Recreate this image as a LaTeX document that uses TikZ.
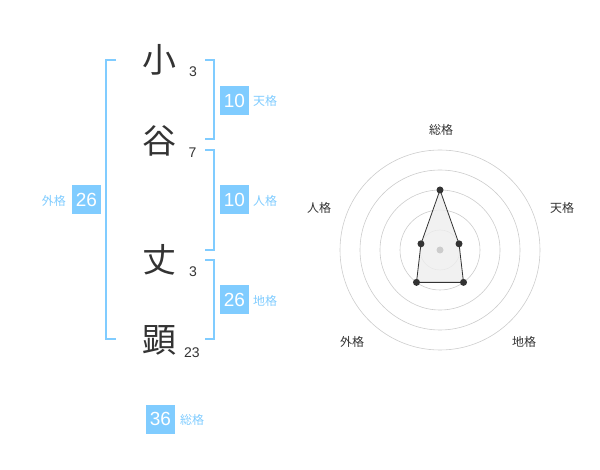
\documentclass[tikz,border=0pt]{standalone}
\usepackage{fontspec}
\usetikzlibrary{calc}
\setmainfont{Liberation Sans}
\newfontfamily\jpfont{Noto Sans CJK JP}
\definecolor{skyblue}{RGB}{128,204,255}
\definecolor{inkgray}{RGB}{51,51,51}
\definecolor{ringgray}{RGB}{204,204,204}
\definecolor{areagray}{RGB}{238,238,238}

\begin{document}
\begin{tikzpicture}[x=1pt,y=-1pt,
    kanji/.style={font=\jpfont\fontsize{34}{34}\selectfont, text=inkgray, inner sep=0pt},
    strokes/.style={font=\fontsize{14}{14}\selectfont, text=inkgray, inner sep=0pt},
    scorebox/.style={fill=skyblue, text=white, minimum size=29pt, inner sep=0pt, font=\fontsize{19}{19}\selectfont},
    scorelabel/.style={text=skyblue, font=\jpfont\fontsize{12}{12}\selectfont, inner sep=0pt},
    bracket/.style={draw=skyblue, line width=2pt},
    ring/.style={draw=ringgray, line width=0.6pt},
    axislabel/.style={font=\jpfont\fontsize{12}{12}\selectfont, text=inkgray, inner sep=0pt},
    dot/.style={circle, fill=inkgray, minimum size=7pt, inner sep=0pt}]
    \useasboundingbox (0,0) rectangle (600,470);
    % name
    \node [kanji] (k1) at (159,60) {小};
    \node [kanji] (k2) at (159,141) {谷};
    \node [kanji] (k3) at (159,260) {丈};
    \node [kanji] (k4) at (159,340) {顕};
    \node [strokes] (s1) at (193,72) {3};
    \node [strokes] (s2) at (192.5,153) {7};
    \node [strokes] (s3) at (193,272) {3};
    \node [strokes] (s4) at (192,353) {23};
    % brackets
    \coordinate (gai a) at (116,60);
    \coordinate (gai b) at (106,60);
    \coordinate (gai c) at (106,339);
    \coordinate (gai d) at (116,339);
    \draw [bracket] (gai a) -- (gai b) -- (gai c) -- (gai d);
    \coordinate (ten a) at (205,60);
    \coordinate (ten b) at (214,60);
    \coordinate (ten c) at (214,139);
    \coordinate (ten d) at (205,139);
    \draw [bracket] (ten a) -- (ten b) -- (ten c) -- (ten d);
    \coordinate (jin a) at (205,150);
    \coordinate (jin b) at (214,150);
    \coordinate (jin c) at (214,250);
    \coordinate (jin d) at (205,250);
    \draw [bracket] (jin a) -- (jin b) -- (jin c) -- (jin d);
    \coordinate (chi a) at (205,260);
    \coordinate (chi b) at (214,260);
    \coordinate (chi c) at (214,339);
    \coordinate (chi d) at (205,339);
    \draw [bracket] (chi a) -- (chi b) -- (chi c) -- (chi d);
    % scores
    \node [scorebox] (ten) at (234.5,100.5) {10};
    \node [scorelabel, anchor=west] (ten label) at (253,101) {天格};
    \node [scorebox] (jin) at (234.5,200) {10};
    \node [scorelabel, anchor=west] (jin label) at (253,201) {人格};
    \node [scorebox] (chi) at (234.5,300) {26};
    \node [scorelabel, anchor=west] (chi label) at (253,301) {地格};
    \node [scorebox] (gai) at (86.5,200) {26};
    \node [scorelabel, anchor=east] (gai label) at (66,201) {外格};
    \node [scorebox] (sou) at (160.5,419) {36};
    \node [scorelabel, anchor=west] (sou label) at (180,420) {総格};
    % radar
    \coordinate (centre) at (440,250);
    \foreach \r in {20,40,60,80,100}
        \draw [ring] (centre) circle (\r);
    \node [axislabel] (ax sou) at (441,130) {総格};
    \node [axislabel] (ax ten) at (562,208) {天格};
    \node [axislabel] (ax chi) at (524,342) {地格};
    \node [axislabel] (ax gai) at (352,342) {外格};
    \node [axislabel] (ax jin) at (319,208) {人格};
    \coordinate (p sou) at ($(centre)+(-90:60)$);
    \coordinate (p ten) at ($(centre)+(-18:20)$);
    \coordinate (p chi) at ($(centre)+(54:40)$);
    \coordinate (p gai) at ($(centre)+(126:40)$);
    \coordinate (p jin) at ($(centre)+(198:20)$);
    \draw [inkgray, line width=0.8pt, fill=areagray, fill opacity=0.8]
        (p sou) -- (p ten) -- (p chi) -- (p gai) -- (p jin) -- cycle;
    \fill [ringgray] (centre) circle (3.5);
    \foreach \p in {sou,ten,chi,gai,jin}
        \node [dot] (d \p) at (p \p) {};
\end{tikzpicture}
\end{document}
